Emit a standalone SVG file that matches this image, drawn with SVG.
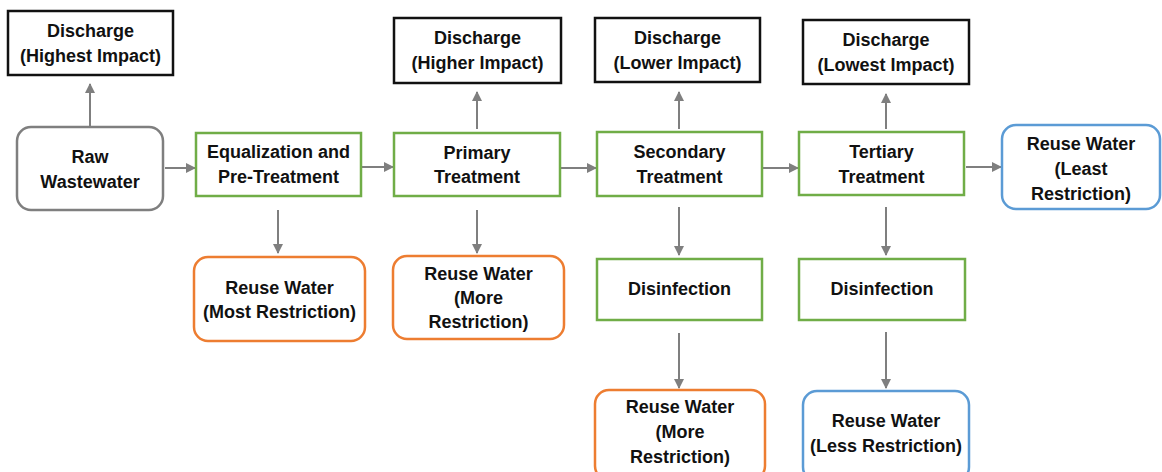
<svg xmlns="http://www.w3.org/2000/svg" width="1162" height="472" viewBox="0 0 1162 472">
<style>
text{font-family:"Liberation Sans",Arial,sans-serif;font-weight:bold;font-size:18px;fill:#111;text-anchor:middle}
.blk{fill:#fff;stroke:#111;stroke-width:2.5}
.grn{fill:#fff;stroke:#70ad47;stroke-width:2.5}
.gry{fill:#fff;stroke:#7f7f7f;stroke-width:2.5}
.org{fill:#fff;stroke:#ed7d31;stroke-width:2.5}
.blu{fill:#fff;stroke:#5b9bd5;stroke-width:2.5}
.c{stroke:#7f7f7f;stroke-width:2;fill:none;marker-end:url(#ah)}
</style>
<defs>
<marker id="ah" viewBox="0 0 10 10" refX="9" refY="5" markerWidth="5" markerHeight="5" orient="auto" markerUnits="strokeWidth">
<path d="M0,0 L10,5 L0,10 Z" fill="#7f7f7f"/>
</marker>
</defs>
<g id="connectors">
<line class="c" x1="90" y1="126" x2="90" y2="84"/>
<line class="c" x1="165" y1="168" x2="195" y2="168"/>
<line class="c" x1="362" y1="167" x2="393" y2="167"/>
<line class="c" x1="561" y1="168" x2="596" y2="168"/>
<line class="c" x1="763" y1="168" x2="798" y2="168"/>
<line class="c" x1="966" y1="167" x2="1001" y2="167"/>
<line class="c" x1="477" y1="129" x2="477" y2="92"/>
<line class="c" x1="679" y1="129" x2="679" y2="92"/>
<line class="c" x1="886" y1="129" x2="886" y2="94"/>
<line class="c" x1="278" y1="210" x2="278" y2="253"/>
<line class="c" x1="477" y1="210" x2="477" y2="253"/>
<line class="c" x1="679" y1="207" x2="679" y2="255"/>
<line class="c" x1="886" y1="207" x2="886" y2="255"/>
<line class="c" x1="679" y1="333" x2="679" y2="388"/>
<line class="c" x1="886" y1="332" x2="886" y2="388"/>
</g>
<g id="discharge-highest"><rect class="blk" x="8" y="11" width="165" height="64"/><text x="90.5" y="37">Discharge</text><text x="90.5" y="62">(Highest Impact)</text></g>
<g id="raw-wastewater"><rect class="gry" x="17" y="127" width="146" height="83" rx="14"/><text x="90" y="163">Raw</text><text x="90" y="188">Wastewater</text></g>
<g id="equalization"><rect class="grn" x="196" y="133" width="165" height="63"/><text x="278.5" y="158">Equalization and</text><text x="278.5" y="183">Pre-Treatment</text></g>
<g id="discharge-higher"><rect class="blk" x="394" y="18" width="167" height="65"/><text x="477.5" y="44">Discharge</text><text x="477.5" y="69">(Higher Impact)</text></g>
<g id="primary"><rect class="grn" x="394" y="133" width="166" height="63"/><text x="477" y="159">Primary</text><text x="477" y="183">Treatment</text></g>
<g id="discharge-lower"><rect class="blk" x="595" y="18" width="165" height="64"/><text x="677.5" y="44">Discharge</text><text x="677.5" y="69">(Lower Impact)</text></g>
<g id="secondary"><rect class="grn" x="597" y="132" width="165" height="64"/><text x="679.5" y="158">Secondary</text><text x="679.5" y="183">Treatment</text></g>
<g id="discharge-lowest"><rect class="blk" x="803" y="20" width="166" height="64"/><text x="886" y="46">Discharge</text><text x="886" y="71">(Lowest Impact)</text></g>
<g id="tertiary"><rect class="grn" x="799" y="132" width="165" height="63"/><text x="881.5" y="158">Tertiary</text><text x="881.5" y="183">Treatment</text></g>
<g id="reuse-least"><rect class="blu" x="1002" y="125" width="158" height="84" rx="14"/><text x="1081" y="150">Reuse Water</text><text x="1081" y="175">(Least</text><text x="1081" y="200">Restriction)</text></g>
<g id="reuse-most"><rect class="org" x="194" y="257" width="171" height="84" rx="14"/><text x="279.5" y="294">Reuse Water</text><text x="279.5" y="318">(Most Restriction)</text></g>
<g id="reuse-more-1"><rect class="org" x="393" y="256" width="171" height="83" rx="14"/><text x="478.5" y="280">Reuse Water</text><text x="478.5" y="304">(More</text><text x="478.5" y="328">Restriction)</text></g>
<g id="disinfection-1"><rect class="grn" x="597" y="259" width="165" height="61"/><text x="679.5" y="295">Disinfection</text></g>
<g id="disinfection-2"><rect class="grn" x="799" y="259" width="166" height="61"/><text x="882" y="295">Disinfection</text></g>
<g id="reuse-more-2"><rect class="org" x="595" y="390" width="170" height="90" rx="14"/><text x="680" y="413">Reuse Water</text><text x="680" y="438">(More</text><text x="680" y="463">Restriction)</text></g>
<g id="reuse-less"><rect class="blu" x="803" y="391" width="166" height="90" rx="14"/><text x="886" y="427">Reuse Water</text><text x="886" y="452">(Less Restriction)</text></g>
</svg>
